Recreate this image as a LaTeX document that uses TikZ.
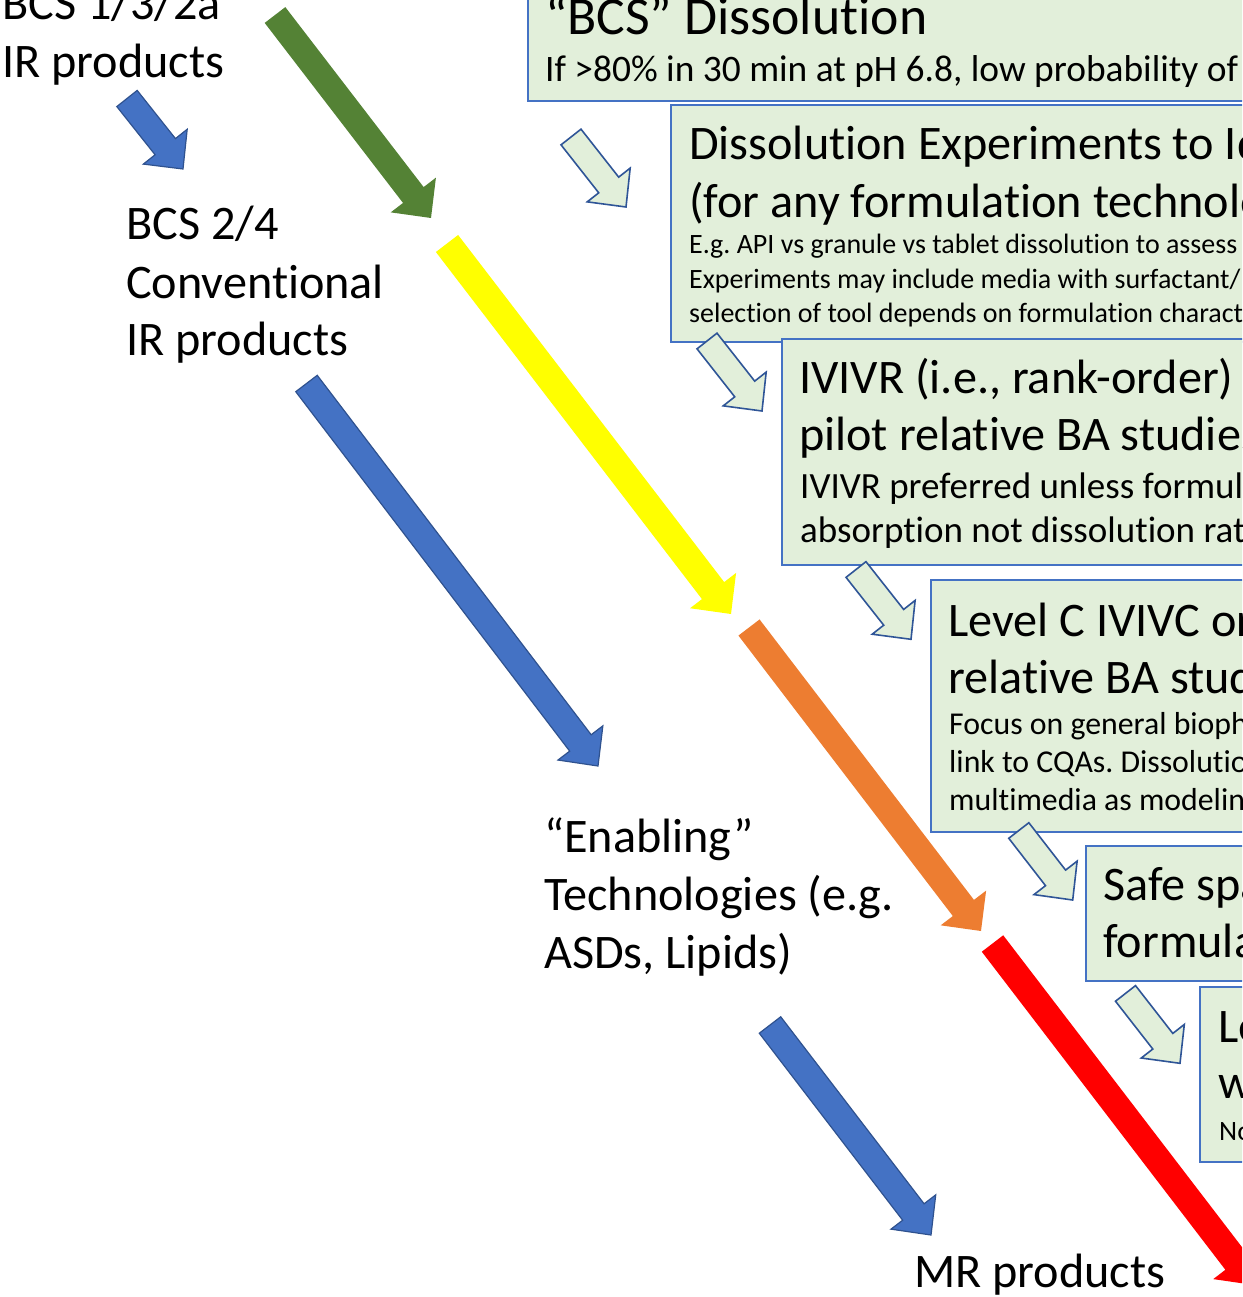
\documentclass[tikz,border=0pt]{standalone}
\usepackage{fontspec}
\setmainfont{Carlito}[Ligatures=NoCommon]
\usetikzlibrary{calc}
\definecolor{boxfill}{HTML}{E2EFDA}
\definecolor{boxline}{HTML}{4472C4}
\definecolor{hollowline}{HTML}{2F5597}
\definecolor{bluefill}{HTML}{4472C4}
\definecolor{blueline}{HTML}{2F528F}
\definecolor{greenfill}{HTML}{548235}
\definecolor{yellowfill}{HTML}{FFFF00}
\definecolor{orangefill}{HTML}{ED7D31}
\definecolor{redfill}{HTML}{FF0000}
\frenchspacing
% #1 style, #2 tail centre, #3 tip, #4 half shaft, #5 half head, #6 head length
\newcommand\blkarrow[6]{%
  \coordinate (tmpB) at ($(#3)!#6!(#2)$);
  \path[#1] ($(#2)!#4!90:(#3)$) -- ($(tmpB)!#4!-90:(#2)$) -- ($(tmpB)!#5!-90:(#2)$)
    -- (#3) -- ($(tmpB)!#5!90:(#2)$) -- ($(tmpB)!#4!90:(#2)$) -- ($(#2)!#4!-90:(#3)$) -- cycle;}
\begin{document}
\begin{tikzpicture}[x=1pt,y=-1pt,
  box/.style={draw=boxline,fill=boxfill,line width=1.8pt,rectangle,inner sep=0pt,minimum width=800pt},
  big/.style={anchor=base west,inner sep=0pt,font=\fontsize{48.2}{58}\selectfont},
  huge/.style={anchor=base west,inner sep=0pt,font=\fontsize{53.7}{64}\selectfont},
  sub37/.style={anchor=base west,inner sep=0pt,font=\fontsize{37.4}{44}\selectfont},
  sub36/.style={anchor=base west,inner sep=0pt,font=\fontsize{37}{44}\selectfont},
  sub31/.style={anchor=base west,inner sep=0pt,font=\fontsize{31.8}{38}\selectfont},
  sub28/.style={anchor=base west,inner sep=0pt,font=\fontsize{28}{33.5}\selectfont},
  hollow/.style={draw=hollowline,fill=boxfill,line width=1.6pt,line join=miter},
  bluearr/.style={draw=blueline,fill=bluefill,line width=1.2pt,line join=miter},
  greenarr/.style={fill=greenfill},
  yellowarr/.style={fill=yellowfill},
  orangearr/.style={fill=orangefill},
  redarr/.style={fill=redfill}]
\useasboundingbox (0,0) rectangle (1242,1297);
\clip (0,0) rectangle (1242,1297);

% boxes
\node[box,anchor=south west,minimum height=140pt] (box1) at (527,102) {};
\node[box,anchor=north west,minimum height=237pt] (box2) at (670,104) {};
\node[box,anchor=north west,minimum height=226pt] (box3) at (781,338) {};
\node[box,anchor=north west,minimum height=252pt] (box4) at (930,579) {};
\node[box,anchor=north west,minimum height=135pt] (box5) at (1085,845) {};
\node[box,anchor=north west,minimum height=175pt] (box6) at (1199,986) {};

% box texts
\node[huge] (t1a) at (545,35) {“BCS” Dissolution};
\node[sub37] (t1b) at (545,82) {If >80\% in 30 min at pH 6.8, low probability of};
\node[big] (t2a) at (689,160) {Dissolution Experiments to Id};
\node[big] (t2b) at (689,218) {(for any formulation technolo};
\node[sub28] (t2c) at (689,254) {E.g. API vs granule vs tablet dissolution to assess};
\node[sub28] (t2d) at (689,288) {Experiments may include media with surfactant/};
\node[sub28] (t2e) at (689,322) {selection of tool depends on formulation charact};
\node[big] (t3a) at (799,393) {IVIVR (i.e., rank-order)};
\node[big] (t3b) at (799,450) {pilot relative BA studies};
\node[sub36] (t3c) at (800,498) {IVIVR preferred unless formula};
\node[sub36] (t3d) at (800,542) {absorption not dissolution rate};
\node[big] (t4a) at (948,636) {Level C IVIVC or};
\node[big] (t4b) at (948,693) {relative BA studi};
\node[sub31] (t4c) at (949,734) {Focus on general biopha};
\node[sub31] (t4d) at (949,772) {link to CQAs. Dissolutio};
\node[sub31] (t4e) at (949,810) {multimedia as modeling};
\node[big] (t5a) at (1103,900) {Safe spa};
\node[big] (t5b) at (1103,957) {formulat};
\node[big] (t6a) at (1218,1042) {Lev};
\node[big] (t6b) at (1218,1098) {wi};
\node[sub28] (t6c) at (1219,1140) {No};

% left labels
\node[big] (l1a) at (2,20) {BCS 1/3/2a};
\node[big] (l1b) at (2,78) {IR products};
\node[big] (l2a) at (126,240) {BCS 2/4};
\node[big] (l2b) at (126,298) {Conventional};
\node[big] (l2c) at (126,355) {IR products};
\node[big] (l3a) at (544,852) {“Enabling”};
\node[big] (l3b) at (544,910) {Technologies (e.g.};
\node[big] (l3c) at (544,968) {ASDs, Lipids)};
\node[big] (l4a) at (914,1287) {MR products};

% hollow arrows between boxes
\coordinate (h1t) at (571,137);   \coordinate (h1p) at (626,207);
\coordinate (h2t) at (707,341);   \coordinate (h2p) at (762,411);
\coordinate (h3t) at (856,569.5); \coordinate (h3p) at (911,639.3);
\coordinate (h4t) at (1018.8,830.5); \coordinate (h4p) at (1072.7,900);
\coordinate (h5t) at (1125.5,993.4); \coordinate (h5p) at (1180,1063.3);
\blkarrow{hollow}{h1t}{h1p}{12.7pt}{27.3pt}{28pt}
\blkarrow{hollow}{h2t}{h2p}{12.7pt}{27.3pt}{28pt}
\blkarrow{hollow}{h3t}{h3p}{12.7pt}{27.3pt}{28pt}
\blkarrow{hollow}{h4t}{h4p}{12.7pt}{27.3pt}{28pt}
\blkarrow{hollow}{h5t}{h5p}{12.7pt}{27.3pt}{28pt}

% coloured block arrows
\coordinate (sbt) at (127,98.5);   \coordinate (sbp) at (183,169);
\coordinate (grt) at (275,15);     \coordinate (grp) at (431,218);
\coordinate (yet) at (447,243.5);  \coordinate (yep) at (731,614);
\coordinate (b1t) at (306.5,383.5); \coordinate (b1p) at (598,766);
\coordinate (ort) at (749,627.5);  \coordinate (orp) at (981,931);
\coordinate (rdt) at (992.5,943.5); \coordinate (rdp) at (1254,1285);
\coordinate (b2t) at (770,1025);   \coordinate (b2p) at (931,1235);
\blkarrow{bluearr}{sbt}{sbp}{13pt}{28pt}{28.5pt}
\blkarrow{greenarr}{grt}{grp}{13pt}{28.5pt}{29pt}
\blkarrow{yellowarr}{yet}{yep}{14pt}{29pt}{29.5pt}
\blkarrow{bluearr}{b1t}{b1p}{13.5pt}{28.2pt}{29pt}
\blkarrow{orangearr}{ort}{orp}{13.3pt}{28.6pt}{29pt}
\blkarrow{redarr}{rdt}{rdp}{13.5pt}{28.8pt}{29.5pt}
\blkarrow{bluearr}{b2t}{b2p}{13.5pt}{28.2pt}{29pt}
\end{tikzpicture}
\end{document}
